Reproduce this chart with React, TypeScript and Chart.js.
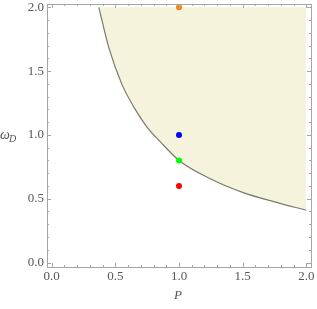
import React, { useEffect, useRef } from "react";
import { Chart, registerables } from "chart.js";

Chart.register(...registerables);

// Boundary curve (P, omega_D)
const curveP = [0.37, 0.45, 0.55, 0.65, 0.75, 0.85, 1.0, 1.25, 1.5, 1.75, 2.0];
const curveW = [2.0, 1.68, 1.4, 1.21, 1.06, 0.95, 0.8, 0.655, 0.55, 0.475, 0.41];

// Marked points
const pointP = [1.0, 1.0, 1.0, 1.0];
const pointW = [2.0, 1.0, 0.8, 0.6];
const pointColors = ["#ff7f0e", "#0000ff", "#00ff00", "#ff0000"];

const majorTicks = [0, 0.5, 1.0, 1.5, 2.0];
const tickLabels = ["0.0", "0.5", "1.0", "1.5", "2.0"];
const minorTicks = [0.1, 0.2, 0.3, 0.4, 0.6, 0.7, 0.8, 0.9, 1.1, 1.2, 1.3, 1.4, 1.6, 1.7, 1.8, 1.9];

const framePlugin = {
  id: "mmaFrame",
  afterDraw(chart: any) {
    const ctx = chart.ctx;
    const { left, right, top, bottom } = chart.chartArea;
    const xs = chart.scales.x;
    const ys = chart.scales.y;
    ctx.save();
    ctx.strokeStyle = "#a6a6a6";
    ctx.lineWidth = 1;
    ctx.strokeRect(Math.round(left) + 0.5, Math.round(top) + 0.5, Math.round(right - left), Math.round(bottom - top));
    const drawTicks = (vals: number[], len: number) => {
      ctx.beginPath();
      for (const v of vals) {
        const px = Math.round(xs.getPixelForValue(v)) + 0.5;
        ctx.moveTo(px, bottom);
        ctx.lineTo(px, bottom - len);
        ctx.moveTo(px, top);
        ctx.lineTo(px, top + len);
        const py = Math.round(ys.getPixelForValue(v)) + 0.5;
        ctx.moveTo(left, py);
        ctx.lineTo(left + len, py);
        ctx.moveTo(right, py);
        ctx.lineTo(right - len, py);
      }
      ctx.stroke();
    };
    drawTicks(majorTicks, 4);
    drawTicks(minorTicks, 2);

    ctx.fillStyle = "#555555";
    ctx.font = "13px 'Liberation Serif', serif";
    ctx.textAlign = "center";
    ctx.textBaseline = "middle";
    majorTicks.forEach((v, i) => {
      ctx.fillText(tickLabels[i], xs.getPixelForValue(v), bottom + 10);
    });
    ctx.textAlign = "right";
    majorTicks.forEach((v, i) => {
      ctx.fillText(tickLabels[i], left - 3, ys.getPixelForValue(v));
    });

    // axis labels
    ctx.textAlign = "left";
    ctx.textBaseline = "alphabetic";
    ctx.font = "italic 14px 'Liberation Serif', serif";
    ctx.fillText("ω", 0, 139);
    ctx.font = "italic 10px 'Liberation Serif', serif";
    ctx.fillText("D", 9, 142);
    ctx.font = "italic 13px 'Liberation Serif', serif";
    ctx.textAlign = "center";
    ctx.fillText("P", xs.getPixelForValue(1.0) - 1, 299);
    ctx.restore();
  },
};

export default function App() {
  const ref = useRef<HTMLCanvasElement>(null);
  useEffect(() => {
    if (!ref.current) return;
    const chart = new Chart(ref.current, {
      type: "scatter",
      data: {
        datasets: [
          {
            type: "line",
            data: curveP.map((p, i) => ({ x: p, y: curveW[i] })),
            borderColor: "#7a7a6e",
            borderWidth: 1.2,
            backgroundColor: "#f5f3dc",
            fill: { value: 2.0 },
            pointRadius: 0,
            cubicInterpolationMode: "monotone",
            order: 2,
          } as any,
          {
            type: "scatter",
            data: pointP.map((p, i) => ({ x: p, y: pointW[i] })),
            backgroundColor: pointColors,
            borderColor: pointColors,
            pointRadius: 3,
            borderWidth: 0,
            order: 1,
          } as any,
        ],
      },
      options: {
        responsive: false,
        animation: false,
        devicePixelRatio: 1,
        layout: { padding: { left: 47, right: 6, top: 4, bottom: 42 } },
        plugins: { legend: { display: false }, tooltip: { enabled: false } },
        scales: {
          x: { type: "linear", min: -0.037, max: 2.037, display: false },
          y: { type: "linear", min: -0.035, max: 2.026, display: false },
        },
      },
      plugins: [framePlugin],
    });
    return () => chart.destroy();
  }, []);
  return (
    <div style={{ position: "fixed", left: 0, top: 0, width: 317, height: 309, background: "#fff" }}>
      <canvas ref={ref} width={317} height={309} style={{ width: 317, height: 309 }} />
    </div>
  );
}
